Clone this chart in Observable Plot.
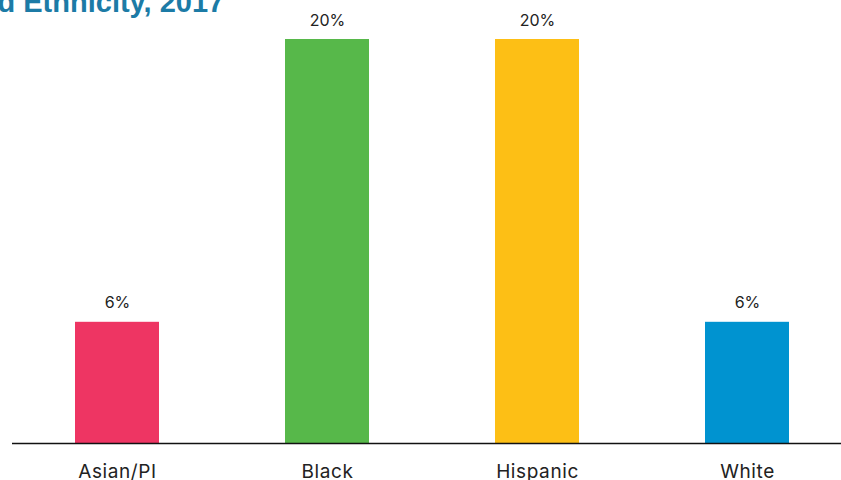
<!DOCTYPE html>
<html>
<head>
<meta charset="utf-8">
<script src="https://cdn.jsdelivr.net/npm/d3@7"></script>
<script src="https://cdn.jsdelivr.net/npm/@observablehq/plot@0.6"></script>
<style>
  html, body { margin: 0; padding: 0; background: #fff; overflow: hidden; }
  #chart svg { display: block; }
  #chart svg g[aria-label="x-axis tick label"] text { letter-spacing: 0.6px; }
</style>
</head>
<body>
<div id="chart"></div>
<script>
const categories = ["Asian/PI", "Black", "Hispanic", "White"];
const values = [6, 20, 20, 6];
const valueLabels = ["6%", "20%", "20%", "6%"];
const colors = ["#EE3563", "#57B84A", "#FDBF15", "#0093D0"];
const titleText = "d Ethnicity, 2017";

const data = categories.map((c, i) => ({category: c, value: values[i], label: valueLabels[i], color: colors[i]}));

const chart = Plot.plot({
  width: 841,
  height: 480,
  marginTop: 0,
  marginLeft: 12,
  marginRight: 0,
  marginBottom: 37,
  style: {fontFamily: "Inter, 'Liberation Sans', Arial, sans-serif", background: "#fff"},
  x: {domain: categories, range: [12, 852], paddingInner: 0.6, paddingOuter: 0.3, label: null},
  y: {domain: [0, 20], range: [443, 39], axis: null},
  marks: [
    Plot.barY(data, {x: "category", y: "value", fill: "color"}),
    Plot.text(data, {x: "category", y: "value", text: "label", dy: -19, fontSize: 16, fill: "#222", style: "letter-spacing:0.6px"}),
    Plot.ruleY([0], {stroke: "#111", strokeWidth: 1.5}),
    Plot.axisX({tickSize: 0, tickPadding: 21, fontSize: 19, fill: "#222"}),
    Plot.text([titleText], {frameAnchor: "top-left", dx: -15, dy: 11, lineAnchor: "bottom", textAnchor: "start", fontSize: 29, fontWeight: "bold", fill: "#1C7BA6", fontFamily: "'Liberation Sans', Arial, sans-serif"})
  ]
});
document.getElementById("chart").appendChild(chart);
</script>
</body>
</html>
